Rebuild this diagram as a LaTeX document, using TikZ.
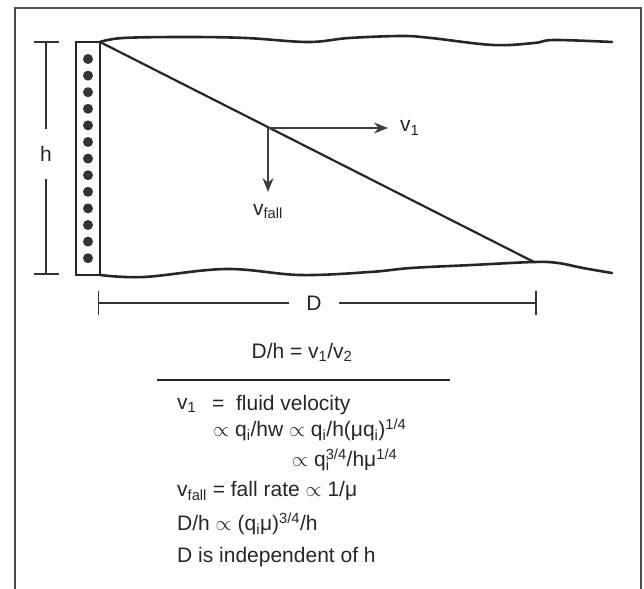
\documentclass[tikz,border=0pt]{standalone}
\usepackage{fontspec}
\setmainfont{Liberation Sans}
\usetikzlibrary{arrows.meta, positioning, calc}

\begin{document}
\begin{tikzpicture}[x=1bp, y=-1bp, >={Stealth[length=14bp, width=11bp]},
    wall/.style={draw=black!85, line width=2.6bp, line cap=round},
    dim/.style={draw=black!80, line width=1.7bp},
    vel/.style={->, draw=black!75, line width=1.7bp},
    lbl/.style={inner sep=0pt, text=black!85, font=\fontsize{21bp}{25bp}\selectfont},
    eqn/.style={lbl, anchor=west}]

    \useasboundingbox (0,0) rectangle (644,589);

    % -------------------------------------------------------------
    % Frame (open at the bottom)
    % -------------------------------------------------------------
    \draw[draw=black!70, line width=1.8bp] (15,589) -- (15,8) -- (641,8) -- (641,589);

    % -------------------------------------------------------------
    % Injection well with its column of perforations
    % -------------------------------------------------------------
    \coordinate (wellTL) at (76,42);
    \coordinate (wellBR) at (100,275);
    \coordinate (topL) at (100,42);
    \coordinate (botL) at (100,275);
    \draw[wall, line width=2bp] (wellTL) rectangle (wellBR);
    \foreach \i in {0,...,12}
        \fill[black!80] (88,{59+16.6*\i}) circle (5bp);

    % -------------------------------------------------------------
    % Top and bottom of the layer
    % -------------------------------------------------------------
    \draw[wall] plot[smooth, tension=0.6] coordinates {(100,42) (123,38) (185,37) (246,38)
        (308,42) (349,38) (402,36) (431,38) (493,45) (534,43) (554,40) (612,42)};
    \coordinate (front) at (534,262);
    \draw[wall] plot[smooth, tension=0.6] coordinates {(100,275) (144,277) (226,269) (300,275)
        (370,272) (411,268) (472,265) (534,262) (558,263) (583,268) (612,273)};

    % Front of the injected fluid
    \draw[wall, line width=2.2bp] (topL) -- (front);

    % -------------------------------------------------------------
    % Velocities at a point on the front
    % -------------------------------------------------------------
    \coordinate (p) at (268,128);
    \coordinate (v1tip) at (388,128);
    \coordinate (falltip) at (268,192);
    \draw[vel] (p) -- (v1tip);
    \draw[vel] (p) -- (falltip);
    \node[lbl, right=12bp of v1tip] (v1lbl) {v\textsubscript{1}};
    \node[lbl, below=12bp of falltip] (falllbl) {v\textsubscript{fall}};

    % -------------------------------------------------------------
    % Dimensions h and D
    % -------------------------------------------------------------
    \coordinate (htop) at (46,42);
    \coordinate (hbot) at (46,274);
    \node[lbl, minimum height=50bp] (hlbl) at (46,154) {h};
    \draw[dim] (34,42) -- (59,42);
    \draw[dim] (34,274) -- (59,274);
    \draw[dim] (htop) -- (hlbl) (hlbl) -- (hbot);

    \coordinate (dleft) at (98.5,303);
    \coordinate (dright) at (536,303);
    \node[lbl, minimum width=50bp] (dlbl) at (314,303) {D};
    \draw[dim] (98.5,291) -- (98.5,315);
    \draw[dim] (536,291) -- (536,315);
    \draw[dim] (dleft) -- (dlbl) (dlbl) -- (dright);

    % -------------------------------------------------------------
    % Scaling relations
    % -------------------------------------------------------------
    \node[lbl] (ratio) at (302,352) {D/h = v\textsubscript{1}/v\textsubscript{2}};
    \coordinate (ruleL) at (157,380);
    \coordinate (ruleR) at (450,380);
    \draw[draw=black!85, line width=2.2bp] (ruleL) -- (ruleR);

    \node[eqn] (v1) at (177,405) {v\textsubscript{1}};
    \node[eqn] (v1def) at (212,405) {= \ fluid velocity};
    \node[eqn] (v1a) at (213,430) {$\propto$ q\textsubscript{i}/hw $\propto$ q\textsubscript{i}/h(μq\textsubscript{i})\textsuperscript{1/4}};
    \node[eqn] (v1b) at (292,460) {$\propto$ q\rlap{\textsubscript{i}}\textsuperscript{3/4}/hμ\textsuperscript{1/4}};
    \node[eqn] (vfall) at (177,491) {v\textsubscript{fall} = fall rate $\propto$ 1/μ};
    \node[eqn] (dh) at (177,524) {D/h $\propto$ (q\textsubscript{i}μ)\textsuperscript{3/4}/h};
    \node[eqn] (indep) at (177,557) {D is independent of h};

\end{tikzpicture}
\end{document}
